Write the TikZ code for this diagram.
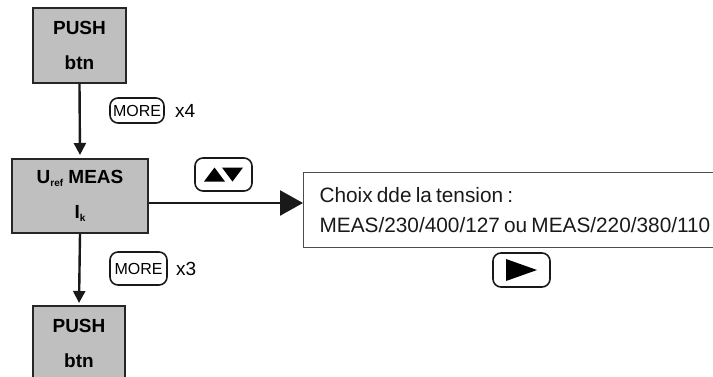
\documentclass[tikz,border=0pt]{standalone}
\usepackage{fontspec}
\setmainfont{Liberation Sans}
\usetikzlibrary{arrows.meta,positioning}
\newcommand{\rapat}{\spaceskip=0.2em\relax}
\tikzset{
  % kotak langkah abu-abu
  pushbox/.style={draw=black!85, line width=2pt, fill=black!25, align=center,
                  font=\bfseries\fontsize{19}{35}\selectfont, inner sep=0pt},
  % kotak keterangan
  infobox/.style={draw=black!70, line width=1.2pt, align=left, inner xsep=16pt,
                  font=\fontsize{20.8}{30}\selectfont, text=black!90},
  % tombol bulat
  keybtn/.style={draw=black!90, line width=1.6pt, rounded corners=8pt, inner sep=0pt,
                 font=\fontsize{16}{16}\selectfont},
  times/.style={font=\fontsize{19}{19}\selectfont, inner sep=0pt},
  flow/.style={line width=2.4pt, black!90, -{Triangle[length=12pt,width=12pt]}},
  flowbig/.style={line width=2.4pt, black!90, -{Triangle[length=23pt,width=25pt]}},
}

\begin{document}
\begin{tikzpicture}[x=1pt, y=-1pt]
\path[use as bounding box, clip] (0,0) rectangle (713,376);

% =================== KOTAK ===================
\node[pushbox, minimum width=93pt, minimum height=75pt] (push1) at (79.5,45.5) {PUSH\\btn};
\node[pushbox, minimum width=136pt, minimum height=74pt] (meas) at (80,196)
  {U\raisebox{-3pt}{\fontsize{10}{10}\selectfont ref} MEAS\\I\raisebox{-3pt}{\fontsize{10}{10}\selectfont k}};
\node[pushbox, minimum width=92pt, minimum height=75pt] (push2) at (79,343.5) {PUSH\\btn};

\node[infobox, anchor=north west, minimum width=460pt, minimum height=75pt,
      text width=428pt] (choix) at (303,172)
  {\rapat Choix dde la tension :\\MEAS/230/400/127 ou MEAS/220/380/110};

% =================== TOMBOL ===================
\node[keybtn, minimum width=54pt, minimum height=25pt] (morea) at (137,110.5) {MORE};
\node[times, right=10pt of morea] (xfour) {x4};
\node[keybtn, minimum width=57pt, minimum height=33pt] (moreb) at (138.5,268.5) {MORE};
\node[times, right=8pt of moreb] (xthree) {x3};

\node[keybtn, minimum width=57pt, minimum height=33pt] (updown) at (223.5,174.5)
  {\tikz\fill[sharp corners] (0,0) -- (10.5pt,14pt) -- (21pt,0) -- cycle;\hspace{-3pt}%
   \tikz\fill[sharp corners] (0,14pt) -- (10.5pt,0) -- (21pt,14pt) -- cycle;};
\node[keybtn, minimum width=57pt, minimum height=34pt] (next) at (521.5,270)
  {\tikz\fill[sharp corners] (0,0) -- (31pt,11pt) -- (0,22pt) -- cycle;};

% =================== PANAH ===================
\draw[flow, shorten >=3pt] (push1.south) -- (meas.north);
\draw[flow, shorten >=2pt] (meas.south) -- (push2.north);
\draw[flowbig] ([yshift=-7pt]meas.east) -- ([yshift=-7pt]meas.east -| choix.west);

\end{tikzpicture}
\end{document}
